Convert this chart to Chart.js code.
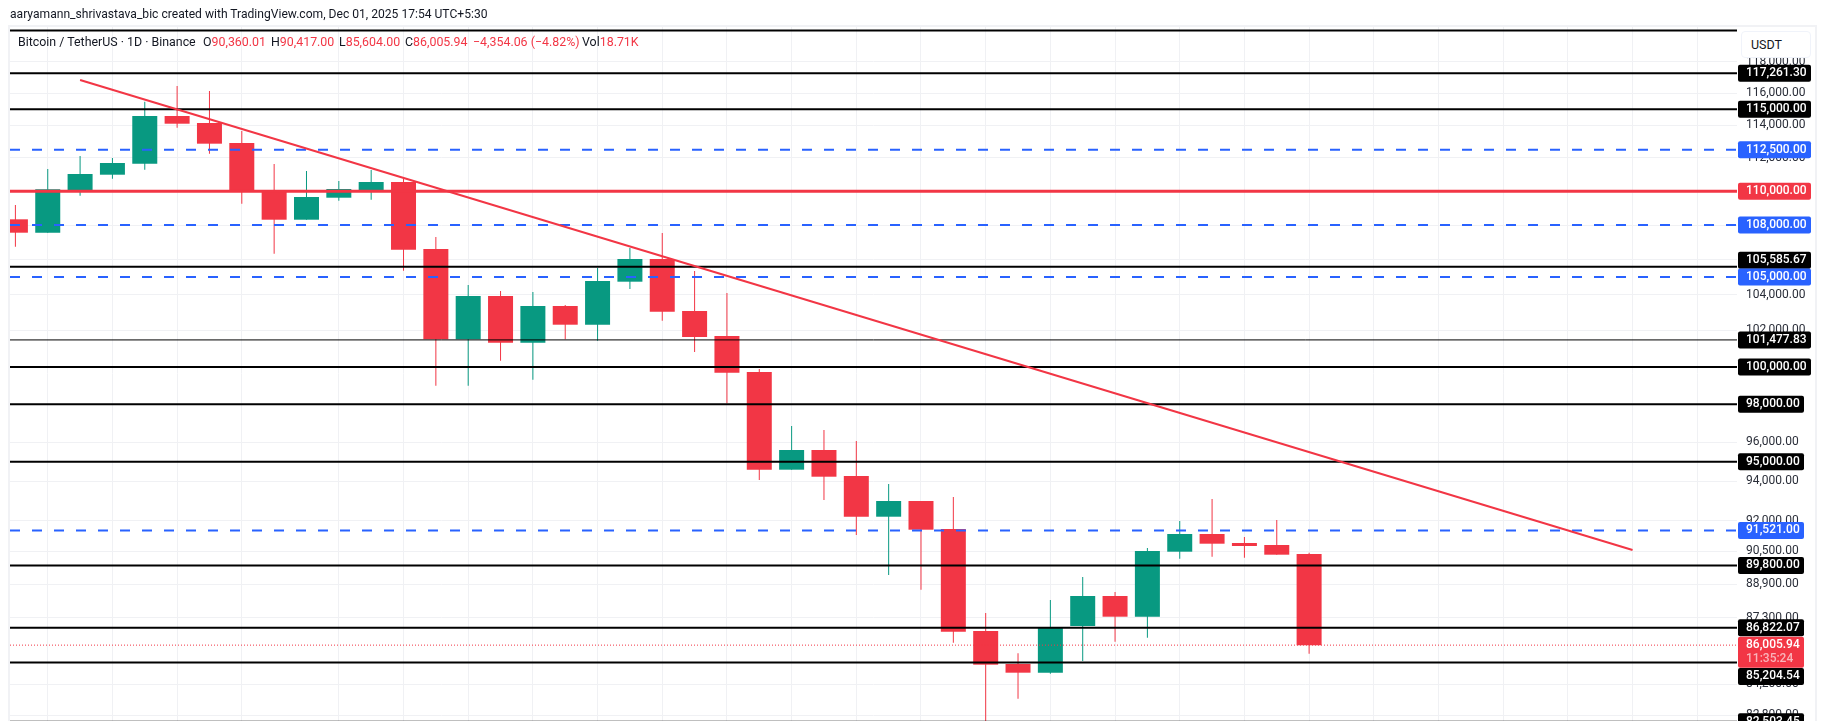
<!DOCTYPE html>
<html>
<head>
<meta charset="utf-8">
<title>Bitcoin / TetherUS</title>
<script src="https://cdn.jsdelivr.net/npm/chart.js@4"></script>
<style>
    html, body { margin: 0; padding: 0; background: #fff; width: 1825px; height: 721px; overflow: hidden; }
    body { position: relative; font-family: Roboto, sans-serif; color: #131722; }
    canvas { position: absolute; left: 0; top: 0; }
    #frame { position: absolute; left: 8px; top: 25px; width: 1805px; height: 700px; border: 2px solid #f1f2f5; pointer-events: none; }
    #madeby { position: absolute; left: 10px; top: 5px; font-size: 12.1px; line-height: 18px; white-space: nowrap; }
    .leg { position: absolute; top: 33px; font-size: 12.4px; line-height: 18px; white-space: nowrap; }
    .red { color: #f23645; }
    #unit { position: absolute; left: 1741px; top: 31px; width: 68px; height: 25px; border: 1px solid #f0f3fa; border-radius: 4px; background: #fff; font-size: 12.5px; line-height: 25px; text-indent: 9px; }
</style>
</head>
<body>
<canvas id="myChart" width="1825" height="721"></canvas>
<div id="frame"></div>
<div id="madeby">aaryamann_shrivastava_bic created with TradingView.com, Dec 01, 2025 17:54 UTC+5:30</div>
<div class="leg" style="left:18px">Bitcoin / TetherUS · 1D · Binance</div>
<div class="leg" style="left:203px">O<span class="red">90,360.01</span></div>
<div class="leg" style="left:271px">H<span class="red">90,417.00</span></div>
<div class="leg" style="left:339px">L<span class="red">85,604.00</span></div>
<div class="leg" style="left:405px">C<span class="red">86,005.94</span></div>
<div class="leg red" style="left:473px">−4,354.06 (−4.82%)</div>
<div class="leg" style="left:582px">Vol<span class="red">18.71K</span></div>
<div id="unit">USDT</div>
<script>
const opens = [108334, 107551, 110069, 110985, 111649, 114573, 114140, 112909, 110069, 108311, 109610, 110069, 110547, 106605, 101513, 103923, 101326, 103361, 102319, 104732, 106029, 103082, 101694, 99729, 94586, 95601, 94263, 92206, 92994, 91594, 86668, 85131, 84731, 86903, 88327, 87342, 90474, 91346, 90901, 90803, 90360.01]
const highs = [109177, 111329, 112116, 111995, 115463, 116451, 116135, 113644, 111631, 111208, 110607, 111269, 110727, 107300, 104544, 104205, 104149, 103417, 105512, 106662, 107533, 105341, 104092, 99892, 96853, 96642, 96068, 93856, 92994, 93196, 87518, 85626, 88136, 89241, 88519, 90656, 91992, 93096, 91198, 92042, 90417]
const lows = [106737, 107551, 109730, 110745, 111287, 113849, 112256, 109255, 106333, 108311, 109433, 109492, 105358, 98991, 98991, 100342, 99314, 101513, 101435, 104319, 102541, 100816, 98052, 94059, 94586, 93045, 91296, 89338, 88630, 86120, 80600, 83545, 84685, 85270, 86167, 86353, 90131, 90229, 90180, 90327, 85604]
const closes = [107551, 110110, 111028, 111691, 114573, 114096, 112867, 110069, 108311, 109652, 110129, 110547, 106564, 101513, 103923, 101326, 103361, 102319, 104772, 106029, 103042, 101639, 99691, 94586, 95601, 94227, 92206, 92994, 91559, 86635, 85099, 84731, 86842, 88327, 87342, 90508, 91346, 90867, 90754, 90327, 86005.94]

const blackLevels = [120000, 117261.30, 115000, 105585.67, 100000, 98000, 95000, 89800, 86822.07, 85204.54, 82503.45]
const thinLevels = [101477.83]
const blueLevels = [112500, 108000, 105000, 91521]
const redLevels = [110000]
const lastPrice = [86005.94]
const trendDays = [2, 50]
const trendPrices = [116831, 90557]

const priceTicks = [118000, 116000, 114000, 112000, 110000, 108000, 106000, 104000, 102000, 100000, 98000, 96000, 94000, 92000, 90500, 88900, 87300, 84200, 82800]
const dayTicks = [1, 3, 5, 7, 10, 12, 14, 16, 18, 20, 22, 24, 26, 28, 30, 32, 34, 36, 38, 40, 42, 44, 46, 48, 50, 52]

const blackTags = [117261.30, 115000, 105585.67, 101477.83, 100000, 98000, 95000, 89800, 86822.07, 85204.54, 82503.45]
const blueTags = [112500, 108000, 105000, 91521]
const redTags = [110000]
const countdown = "11:35:24"

const RED = "#f23645"
const GREEN = "#089981"
const BLUE = "#2962ff"
const BLACK = "#000000"
const GRID = "#f0f1f4"
const FIRST_DAY = -0.167
const LAST_DAY = 53.23
const FONT = 'Roboto, sans-serif'

var money = (v) => v.toLocaleString("en-US", {minimumFractionDigits: 2, maximumFractionDigits: 2})

var levelLine = (price, color, width, dash, order) => ({
    type: "line",
    data: [{x: FIRST_DAY, y: price}, {x: LAST_DAY, y: price}],
    borderColor: color,
    borderWidth: width,
    borderDash: dash,
    pointRadius: 0,
    order: order,
})

const candleColors = opens.map((o, i) => closes[i] >= o ? GREEN : RED)

const wicks = {
    type: "bar",
    data: opens.map((o, i) => ({x: i, y: [lows[i], highs[i]]})),
    backgroundColor: candleColors,
    barThickness: 1,
    inflateAmount: 0,
    grouped: false,
    order: 6,
}

const bodies = {
    type: "bar",
    data: opens.map((o, i) => ({x: i, y: [o, closes[i]]})),
    backgroundColor: candleColors,
    barThickness: 25,
    inflateAmount: 0,
    grouped: false,
    order: 5,
}

const datasets = [
    wicks,
    bodies,
    ...lastPrice.map(p => levelLine(p, RED, 1, [1, 2], 4)),
    ...blackLevels.map(p => levelLine(p, BLACK, 2, [], 3)),
    ...thinLevels.map(p => levelLine(p, BLACK, 1, [], 3)),
    ...blueLevels.map(p => levelLine(p, BLUE, 2, [10, 12], 3)),
    ...redLevels.map(p => levelLine(p, RED, 3, [], 2)),
    {
        type: "line",
        data: trendDays.map((d, i) => ({x: d, y: trendPrices[i]})),
        borderColor: RED,
        borderWidth: 2,
        pointRadius: 0,
        order: 1,
    },
]

// coloured price tags sitting on top of the axis labels
const priceTags = {
    id: "priceTags",
    afterDraw(chart) {
        const ctx = chart.ctx
        const y = chart.scales.y
        const nudge = {105585.67: -6.5, 85204.54: 14}
        const tag = (value, color) => {
            const text = money(value)
            const w = text.length > 9 ? 73 : 66
            const c = y.getPixelForValue(value) + (nudge[value] || 0)
            ctx.fillStyle = color
            ctx.beginPath()
            ctx.roundRect(1738, c - 8.5, w, 17, 2)
            ctx.fill()
            ctx.fillStyle = "#ffffff"
            ctx.fillText(text, 1746, c)
        }
        ctx.save()
        ctx.font = "500 12px " + FONT
        ctx.textBaseline = "middle"
        blackTags.forEach(v => tag(v, BLACK))
        blueTags.forEach(v => tag(v, BLUE))
        redTags.forEach(v => tag(v, RED))
        // last price tag has two rows
        const c = y.getPixelForValue(lastPrice[0])
        ctx.fillStyle = RED
        ctx.beginPath()
        ctx.roundRect(1738, c - 8.5, 66, 31, 2)
        ctx.fill()
        ctx.fillStyle = "#ffffff"
        ctx.fillText(money(lastPrice[0]), 1746, c)
        ctx.fillStyle = "#f9b4ba"
        ctx.fillText(countdown, 1746, c + 14)
        ctx.restore()
    },
}

const config = {
    type: "bar",
    data: {datasets: datasets},
    plugins: [priceTags],
    options: {
        responsive: false,
        animation: false,
        events: [],
        layout: {padding: {left: 10, top: 26, right: 0, bottom: 0}},
        plugins: {legend: {display: false}, tooltip: {enabled: false}, title: {display: false}},
        scales: {
            x: {
                type: "linear",
                min: FIRST_DAY,
                max: LAST_DAY,
                offset: false,
                grid: {color: GRID, offset: false, drawTicks: false},
                border: {display: false},
                ticks: {display: false},
                afterBuildTicks: (scale) => { scale.ticks = dayTicks.map(v => ({value: v})) },
                afterFit: (scale) => { scale.height = 0; scale.paddingLeft = 0; scale.paddingRight = 0 },
            },
            y: {
                type: "logarithmic",
                position: "right",
                min: 82541,
                max: 120301,
                grid: {color: GRID, drawTicks: false},
                border: {display: false},
                ticks: {
                    autoSkip: false,
                    padding: 9,
                    color: "#2a2e39",
                    font: {family: FONT, size: 12},
                    callback: (v) => money(v),
                },
                afterBuildTicks: (scale) => { scale.ticks = priceTicks.map(v => ({value: v})) },
                afterFit: (scale) => { scale.width = 88; scale.paddingTop = 0; scale.paddingBottom = 0 },
            },
        },
    },
}

const myChart = new Chart(document.getElementById("myChart"), config)
</script>
</body>
</html>
